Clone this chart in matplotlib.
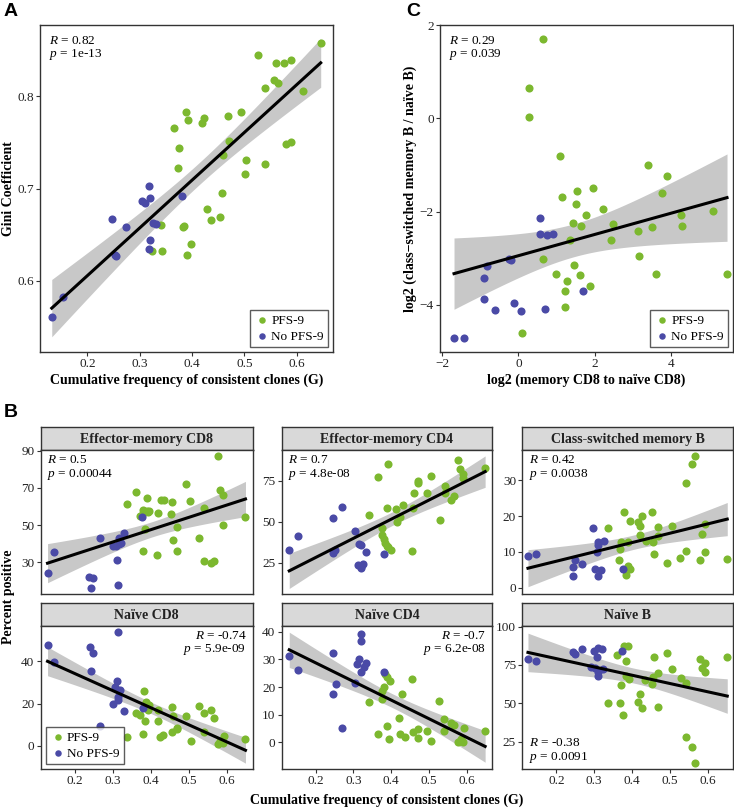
import numpy as np
import matplotlib
matplotlib.use("Agg")
from matplotlib import pyplot as plt

plt.rcParams['font.family'] = ['Liberation Serif', 'DejaVu Serif']
plt.rcParams['mathtext.fontset'] = 'custom'
plt.rcParams['mathtext.rm'] = 'Liberation Serif'
plt.rcParams['mathtext.it'] = 'Liberation Serif:italic'

GREEN = '#7cb82f'
BLUE = '#4a4aa6'

# ---- panel A: G vs Gini coefficient ----
a_pfs_x = [0.646, 0.527, 0.560, 0.576, 0.589, 0.557, 0.564, 0.540, 0.613, 0.389, 0.493, 0.469,
           0.422, 0.420, 0.393, 0.365, 0.376, 0.470, 0.580, 0.589, 0.373, 0.460, 0.504, 0.540,
           0.501, 0.457, 0.429, 0.436, 0.454, 0.382, 0.384, 0.341, 0.398, 0.323, 0.343, 0.390]
a_pfs_y = [0.857, 0.845, 0.836, 0.836, 0.839, 0.817, 0.814, 0.809, 0.806, 0.783, 0.783, 0.779,
           0.776, 0.771, 0.774, 0.765, 0.744, 0.751, 0.748, 0.750, 0.722, 0.736, 0.731, 0.726,
           0.716, 0.695, 0.678, 0.666, 0.669, 0.658, 0.659, 0.660, 0.640, 0.632, 0.632, 0.628]
a_no_x = [0.132, 0.154, 0.247, 0.273, 0.252, 0.255, 0.317, 0.304, 0.311, 0.320, 0.381, 0.326,
          0.331, 0.320, 0.317]
a_no_y = [0.561, 0.583, 0.667, 0.658, 0.628, 0.627, 0.703, 0.687, 0.684, 0.690, 0.692, 0.663,
          0.662, 0.644, 0.635]

# ---- panel C: log2 ratios ----
c_pfs_x = [0.657, 0.289, 0.271, 1.095, 3.398, 3.888, 1.541, 1.953, 1.156, 1.515, 3.757, 2.215,
           5.114, 1.760, 4.256, 1.436, 1.629, 2.478, 4.300, 3.135, 3.494, 2.434, 1.340, 3.161,
           0.657, 1.445, 0.990, 1.620, 3.599, 5.473, 1.287, 1.883, 1.217, 1.217, 0.105]
c_pfs_y = [1.706, 0.660, 0.029, -0.810, -1.011, -1.233, -1.563, -1.491, -1.692, -1.828, -1.606,
           -1.950, -1.986, -2.072, -2.065, -2.237, -2.308, -2.272, -2.301, -2.409, -2.330, -2.617,
           -2.609, -2.953, -3.018, -3.147, -3.341, -3.355, -3.348, -3.348, -3.484, -3.591, -3.706,
           -4.043, -4.609]
c_no_x = [0.569, 0.569, 0.744, 0.902, -0.245, -0.193, -0.832, -0.902, -0.902, -0.114, -0.604,
          0.070, 0.692, 1.690, -1.690, -1.427]
c_no_y = [-2.129, -2.487, -2.502, -2.487, -3.011, -3.039, -3.176, -3.419, -3.871, -3.964, -4.122,
          -4.129, -4.086, -3.706, -4.724, -4.724]

# ---- panel B facets ----
b_titles = ['Effector-memory CD8', 'Effector-memory CD4', 'Class-switched memory B',
            'Naïve CD8', 'Naïve CD4', 'Naïve B']
b_stats = [('0.5', '0.00044'), ('0.7', '4.8e-08'), ('0.42', '0.0038'),
           ('-0.74', '5.9e-09'), ('-0.7', '6.2e-08'), ('-0.38', '0.0091')]

emcd8_pfs_x = [0.577, 0.492, 0.361, 0.582, 0.591, 0.338, 0.389, 0.426, 0.435, 0.455, 0.503, 0.540,
               0.649, 0.591, 0.371, 0.380, 0.389, 0.396, 0.420, 0.453, 0.469, 0.385, 0.527, 0.457,
               0.380, 0.417, 0.468, 0.539, 0.557, 0.566, 0.376, 0.392]
emcd8_pfs_y = [87.1, 72.3, 67.7, 69.1, 66.4, 61.4, 64.4, 63.7, 63.7, 62.4, 63.2, 59.0,
               54.5, 49.8, 54.7, 58.3, 57.4, 57.4, 56.7, 56.1, 48.9, 48.0, 43.3, 41.7,
               36.1, 33.8, 36.1, 30.7, 29.8, 30.4, 55.5, 57.0]
emcd8_no_x = [0.128, 0.146, 0.265, 0.238, 0.247, 0.242, 0.313, 0.311, 0.315, 0.328, 0.377, 0.300,
              0.309, 0.317, 0.321]
emcd8_no_y = [24.2, 35.4, 43.0, 22.3, 21.4, 15.9, 17.7, 31.3, 43.0, 45.9, 54.1, 39.0,
              38.5, 39.9, 40.3]

emcd4_pfs_x = [0.578, 0.583, 0.591, 0.591, 0.649, 0.392, 0.365, 0.506, 0.471, 0.470, 0.542, 0.542,
               0.495, 0.460, 0.567, 0.558, 0.390, 0.431, 0.413, 0.458, 0.342, 0.423, 0.416, 0.529,
               0.376, 0.375, 0.381, 0.385, 0.388, 0.392, 0.399, 0.456]
emcd4_pfs_y = [87.7, 82.0, 79.5, 76.6, 83.0, 85.2, 77.5, 78.1, 75.0, 74.0, 71.7, 67.8,
               67.6, 67.4, 65.8, 63.3, 58.6, 60.0, 58.0, 58.2, 53.9, 52.7, 50.0, 51.4,
               46.3, 42.0, 39.8, 37.1, 35.0, 34.4, 32.6, 32.0]
emcd4_no_x = [0.130, 0.153, 0.271, 0.247, 0.247, 0.252, 0.304, 0.316, 0.319, 0.333, 0.381, 0.312,
              0.320, 0.325, 0.319]
emcd4_no_y = [32.6, 41.6, 59.0, 52.5, 30.9, 32.6, 44.7, 36.7, 35.7, 31.6, 30.5, 23.6,
              22.7, 24.2, 21.7]

csmb_pfs_x = [0.567, 0.560, 0.542, 0.378, 0.427, 0.453, 0.394, 0.336, 0.417, 0.420, 0.420, 0.468,
              0.505, 0.593, 0.584, 0.436, 0.456, 0.469, 0.372, 0.390, 0.369, 0.542, 0.593, 0.458,
              0.365, 0.493, 0.527, 0.580, 0.652, 0.390, 0.394, 0.385]
csmb_pfs_y = [36.7, 34.4, 29.2, 21.1, 20.1, 21.2, 18.6, 16.7, 18.4, 17.2, 14.8, 17.0,
              17.2, 17.9, 15.0, 13.0, 12.7, 14.4, 12.7, 12.7, 10.7, 10.4, 9.9, 9.3,
              7.9, 6.9, 8.3, 7.8, 8.0, 6.2, 5.2, 3.7]
csmb_no_x = [0.125, 0.147, 0.296, 0.311, 0.311, 0.326, 0.308, 0.250, 0.268, 0.243, 0.245, 0.302,
             0.318, 0.311, 0.376]
csmb_no_y = [8.8, 9.4, 16.7, 12.7, 11.9, 13.0, 10.0, 7.8, 6.6, 5.8, 3.2, 5.3,
             5.0, 3.4, 5.2]

ncd8_pfs_x = [0.381, 0.387, 0.392, 0.396, 0.361, 0.372, 0.385, 0.419, 0.419, 0.455, 0.459, 0.492,
              0.527, 0.540, 0.557, 0.566, 0.338, 0.379, 0.423, 0.432, 0.455, 0.469, 0.505, 0.539,
              0.577, 0.590, 0.592, 0.649, 0.583, 0.470]
ncd8_pfs_y = [25.9, 20.6, 17.0, 19.4, 15.4, 14.6, 11.7, 11.9, 17.0, 18.4, 14.3, 14.3,
              19.0, 15.4, 17.0, 13.3, 4.3, 5.4, 4.3, 4.9, 6.7, 7.8, 2.4, 6.3,
              0.8, 1.1, 4.8, 3.2, 2.0, 8.5]
ncd8_no_x = [0.128, 0.146, 0.239, 0.248, 0.242, 0.313, 0.311, 0.305, 0.319, 0.300, 0.313, 0.313,
             0.328, 0.265, 0.378]
ncd8_no_y = [47.6, 39.7, 47.1, 44.0, 35.4, 54.0, 30.8, 28.1, 26.5, 19.8, 23.3, 21.7,
             16.7, 9.4, 17.8]

ncd4_pfs_x = [0.383, 0.389, 0.398, 0.455, 0.381, 0.375, 0.430, 0.376, 0.342, 0.528, 0.421, 0.541,
              0.559, 0.567, 0.592, 0.389, 0.541, 0.649, 0.495, 0.471, 0.458, 0.365, 0.424, 0.437,
              0.393, 0.471, 0.505, 0.578, 0.591, 0.585]
ncd4_pfs_y = [24.7, 23.7, 22.3, 22.9, 19.9, 18.7, 17.3, 15.5, 14.5, 15.1, 8.8, 8.6,
              6.9, 6.3, 5.1, 6.1, 4.2, 4.1, 4.1, 4.8, 3.9, 2.9, 3.0, 2.0,
              1.4, 1.7, 0.6, 0.2, 0.2, 1.2]
ncd4_no_x = [0.130, 0.153, 0.246, 0.247, 0.253, 0.271, 0.303, 0.310, 0.316, 0.319, 0.320, 0.319,
             0.327, 0.333, 0.381]
ncd4_no_y = [31.3, 26.1, 32.4, 17.3, 21.2, 5.3, 21.3, 28.3, 30.1, 36.7, 39.0, 25.3,
             27.3, 28.6, 25.4]

nb_pfs_x = [0.378, 0.389, 0.360, 0.458, 0.493, 0.580, 0.593, 0.652, 0.585, 0.593, 0.385, 0.505,
            0.469, 0.529, 0.542, 0.456, 0.453, 0.434, 0.393, 0.383, 0.372, 0.420, 0.336, 0.369,
            0.416, 0.427, 0.468, 0.377, 0.542, 0.560, 0.567]
nb_pfs_y = [87.6, 87.4, 81.3, 80.0, 82.6, 78.7, 76.1, 80.4, 72.8, 70.2, 77.6, 72.2,
            70.0, 66.7, 63.5, 67.0, 62.6, 65.2, 65.9, 67.8, 62.0, 56.1, 50.4, 50.4,
            50.7, 47.0, 47.4, 42.2, 28.3, 21.7, 11.1]
nb_no_x = [0.125, 0.147, 0.243, 0.250, 0.268, 0.300, 0.311, 0.320, 0.307, 0.293, 0.311, 0.311,
           0.324, 0.373, 0.302]
nb_no_y = [78.9, 77.6, 83.7, 82.2, 85.7, 84.1, 85.9, 85.4, 80.4, 73.5, 70.7, 67.8,
           72.6, 84.1, 72.8]

b_data = [(emcd8_pfs_x, emcd8_pfs_y, emcd8_no_x, emcd8_no_y),
          (emcd4_pfs_x, emcd4_pfs_y, emcd4_no_x, emcd4_no_y),
          (csmb_pfs_x, csmb_pfs_y, csmb_no_x, csmb_no_y),
          (ncd8_pfs_x, ncd8_pfs_y, ncd8_no_x, ncd8_no_y),
          (ncd4_pfs_x, ncd4_pfs_y, ncd4_no_x, ncd4_no_y),
          (nb_pfs_x, nb_pfs_y, nb_no_x, nb_no_y)]
b_ylims = [(12.9, 90.4), (5.9, 93.9), (-1.7, 38.4), (-11.1, 57.1), (-9.6, 42.2), (7.2, 100.7)]
b_yticks = [[30, 50, 70, 90], [25, 50, 75], [0, 10, 20, 30], [0, 20, 40],
            [0, 10, 20, 30, 40], [25, 50, 75, 100]]
b_xticks = [0.2, 0.3, 0.4, 0.5, 0.6]

W, H = 734, 809
fig = plt.figure(figsize=(W / 100, H / 100), dpi=100)


def box(l, t, r, b):
    return fig.add_axes([l / W, 1 - b / H, (r - l) / W, (b - t) / H])


def smooth(ax, x, y):
    x = np.asarray(x)
    y = np.asarray(y)
    n = len(x)
    slope, icept = np.polyfit(x, y, 1)
    xs = np.linspace(x.min(), x.max(), 100)
    fit = slope * xs + icept
    resid = y - (slope * x + icept)
    s = np.sqrt(np.sum(resid ** 2) / (n - 2))
    se = s * np.sqrt(1 / n + (xs - x.mean()) ** 2 / np.sum((x - x.mean()) ** 2))
    ax.fill_between(xs, fit - 2.01 * se, fit + 2.01 * se, color='#c8c8c8', lw=0, zorder=1)
    return xs, fit


def panel(ax, gx, gy, nx, ny):
    xs, fit = smooth(ax, gx + nx, gy + ny)
    ax.scatter(gx, gy, s=34, color=GREEN, lw=0, zorder=2, label='PFS-9')
    ax.scatter(nx, ny, s=34, color=BLUE, lw=0, zorder=2, label='No PFS-9')
    ax.plot(xs, fit, color='black', lw=2.2, zorder=3)
    for sp in ax.spines.values():
        sp.set_linewidth(1.0)
        sp.set_color('#333333')
    ax.tick_params(labelsize=9.5, length=3, width=0.8, pad=1.5, colors='#333333', labelcolor='#222222')


def stat_text(ax, r, p, where):
    if where == 'tl':
        xy, ha, va = (0.03, 0.97), 'left', 'top'
    elif where == 'tr':
        xy, ha, va = (0.97, 0.97), 'right', 'top'
    else:
        xy, ha, va = (0.03, 0.03), 'left', 'bottom'
    ax.text(xy[0], xy[1], '$R$ = ' + r + '\n$p$ = ' + p, transform=ax.transAxes,
            ha=ha, va=va, fontsize=9.5, linespacing=1.05, multialignment=ha)


def legend(ax, loc):
    lg = ax.legend(loc=loc, fontsize=9.5, frameon=True, fancybox=False, handletextpad=0.1,
                   borderpad=0.3, labelspacing=0.3, handlelength=1.2, borderaxespad=0.4,
                   markerscale=0.8)
    lg.get_frame().set_edgecolor('#333333')
    lg.get_frame().set_linewidth(1.0)


# panel A
axA = box(40, 25, 333, 352)
panel(axA, a_pfs_x, a_pfs_y, a_no_x, a_no_y)
axA.set_xlim(0.1095, 0.6695)
axA.set_ylim(0.523, 0.877)
axA.set_xticks([0.2, 0.3, 0.4, 0.5, 0.6])
axA.set_yticks([0.6, 0.7, 0.8])
axA.set_xlabel('Cumulative frequency of consistent clones (G)', fontsize=10, fontweight='bold', labelpad=2)
axA.set_ylabel('Gini Coefficient', fontsize=10, fontweight='bold')
axA.yaxis.set_label_coords(-0.086, 0.5)
stat_text(axA, '0.82', '1e-13', 'tl')
legend(axA, 'lower right')

# panel C
axC = box(440, 25, 733, 352)
panel(axC, c_pfs_x, c_pfs_y, c_no_x, c_no_y)
axC.set_xlim(-2.058, 5.63)
axC.set_ylim(-5.018, 2.007)
axC.set_xticks([-2, 0, 2, 4])
axC.set_yticks([-4, -2, 0, 2])
axC.set_xlabel('log2 (memory CD8 to naïve CD8)', fontsize=10, fontweight='bold', labelpad=2)
axC.set_ylabel('log2 (class\u2212switched memory B / naïve B)', fontsize=10, fontweight='bold')
axC.yaxis.set_label_coords(-0.078, 0.5)
stat_text(axC, '0.29', '0.039', 'tl')
legend(axC, 'lower right')

# panel B facets
cols = [(40.7, 252.7), (281.7, 492.3), (522.3, 733.3)]
rows = [(427, 450, 594), (602.7, 625.5, 769)]
where = ['tl', 'tl', 'tl', 'tr', 'tr', 'bl']
for i in range(6):
    c = cols[i % 3]
    r = rows[i // 3]
    st = box(c[0], r[0], c[1], r[1])
    st.set_facecolor('#d9d9d9')
    st.set_xticks([])
    st.set_yticks([])
    for sp in st.spines.values():
        sp.set_linewidth(1.0)
        sp.set_color('#333333')
    st.text(0.5, 0.45, b_titles[i], ha='center', va='center', fontsize=10, fontweight='bold',
            color='#222222', transform=st.transAxes)
    ax = box(c[0], r[1], c[1], r[2])
    gx, gy, nx, ny = b_data[i]
    panel(ax, gx, gy, nx, ny)
    ax.set_xlim(0.11, 0.668)
    ax.set_ylim(*b_ylims[i])
    ax.set_yticks(b_yticks[i])
    ax.set_xticks(b_xticks)
    if i < 3:
        ax.tick_params(axis='x', length=0, labelbottom=False)
    stat_text(ax, b_stats[i][0], b_stats[i][1], where[i])
    if i == 3:
        legend(ax, 'lower left')

fig.text(9 / W, 1 - 597 / H, 'Percent positive', rotation=90, ha='center', va='center',
         fontsize=10, fontweight='bold')
fig.text(387 / W, 1 - 800 / H, 'Cumulative frequency of consistent clones (G)', ha='center',
         va='center', fontsize=10, fontweight='bold')

for lab, x, y in [('A', 4, 12), ('B', 4, 413), ('C', 406, 12)]:
    fig.text(x / W, 1 - y / H, lab, fontsize=14, fontweight='bold', family='Liberation Sans',
             ha='left', va='center')

fig.savefig('out.png', dpi=100)
